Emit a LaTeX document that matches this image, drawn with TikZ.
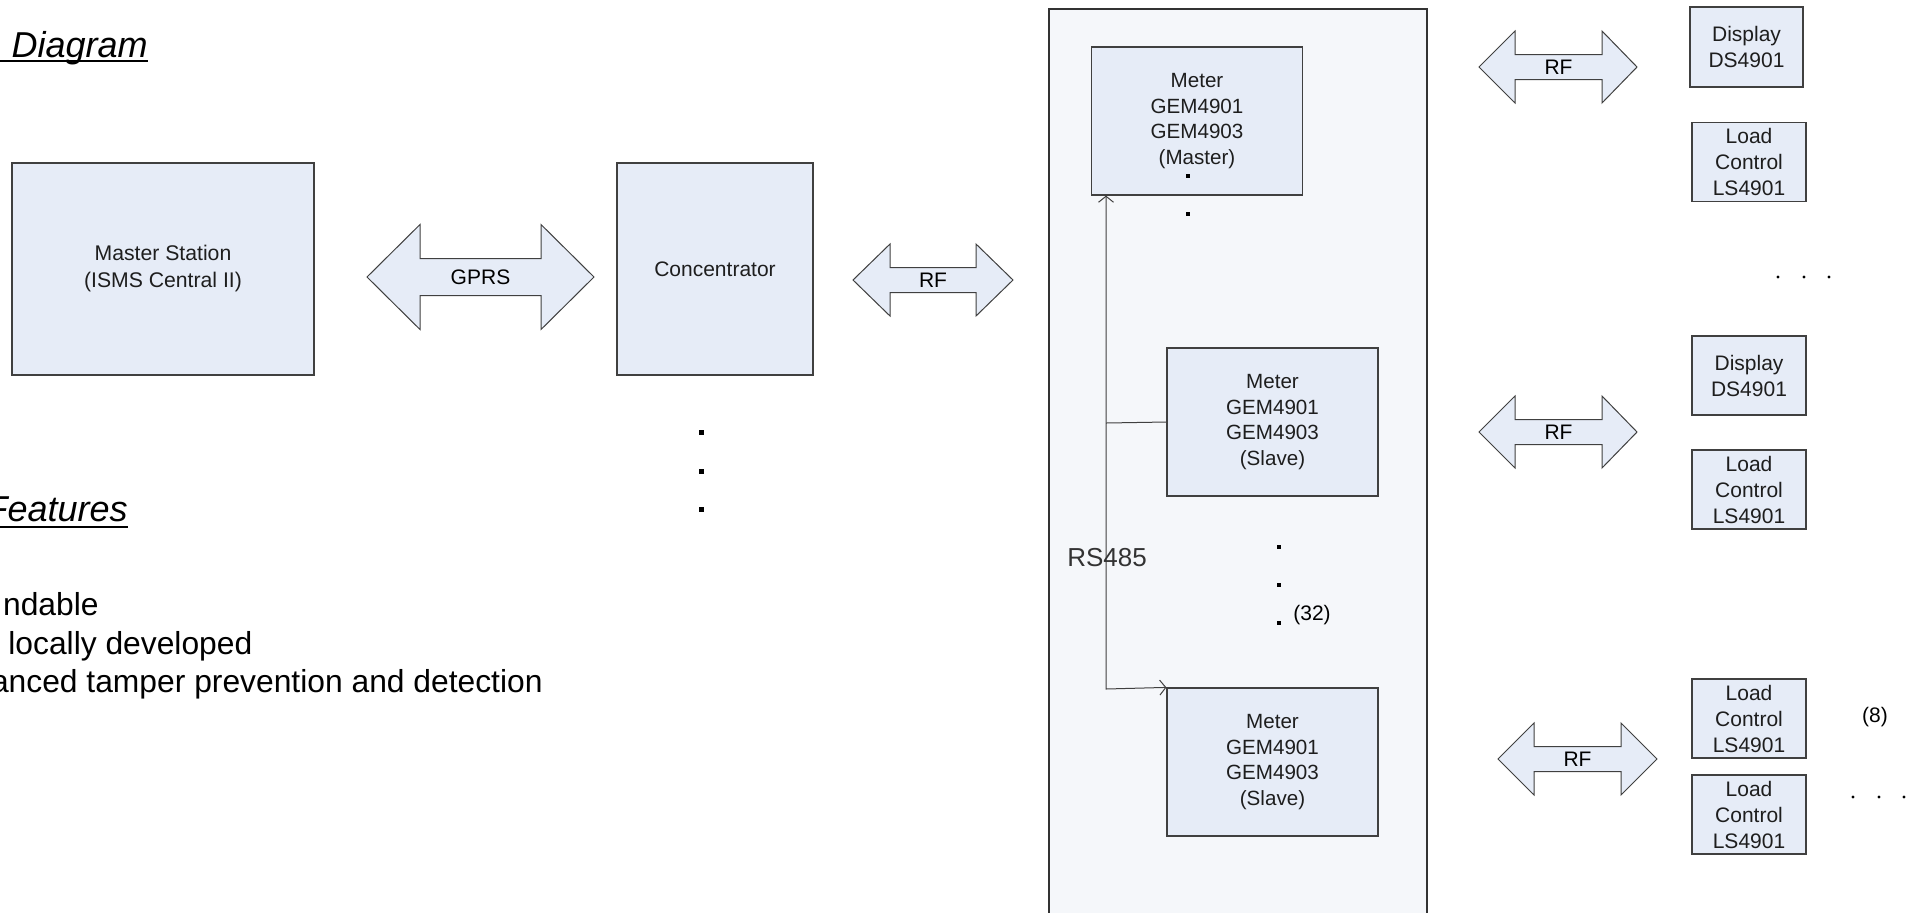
\documentclass[tikz,border=0pt]{standalone}
\usepackage{fontspec}
\setmainfont{Liberation Sans}
\usetikzlibrary{arrows.meta}
\definecolor{boxfill}{RGB}{230,236,247}
\definecolor{contfill}{RGB}{245,247,250}
\definecolor{edgecol}{RGB}{64,64,64}
\definecolor{txtcol}{RGB}{30,30,30}
\newcommand{\blockarr}[9]{%
  \draw[blockar] (#2,#6) -- (#3,#6-#7) -- (#3,#6-#8) -- (#4,#6-#8) -- (#4,#6-#7)
    -- (#5,#6) -- (#4,#6+#7) -- (#4,#6+#8) -- (#3,#6+#8) -- (#3,#6+#7) -- cycle;
  \node[arlbl] (#1) at ({(#3+#4)/2},#6) {#9};}
\newcommand{\sqdot}[3]{\fill (#1-#3,#2-#3) rectangle (#1+#3,#2+#3);}
\begin{document}
\begin{tikzpicture}[x=0.5pt,y=-0.5pt,
  box/.style={draw=edgecol, fill=boxfill, line width=0.6pt, inner sep=0pt, align=center, text=txtcol},
  meterbox/.style={box, minimum width=105.5pt, minimum height=74pt, font=\fontsize{10.3}{12.85}\selectfont},
  devbox/.style={box, minimum width=57pt, minimum height=39.5pt, font=\fontsize{10.5}{13}\selectfont},
  blockar/.style={draw=edgecol, fill=boxfill, line width=0.5pt, line join=miter},
  arlbl/.style={inner sep=0pt, font=\fontsize{10.5}{12}\selectfont},
  bus/.style={draw=edgecol, line width=0.5pt},
  uline/.style={line width=1pt},
  heading/.style={inner sep=0pt, font=\fontsize{18}{21}\selectfont\itshape},
  bodytxt/.style={inner sep=0pt, font=\fontsize{15.9}{18}\selectfont},
  note/.style={inner sep=0pt, font=\fontsize{10.5}{12}\selectfont}
]
\useasboundingbox (0,0) rectangle (1912,912);
\fill[white] (0,0) rectangle (1912,912);

% titles and feature text
\node[heading, anchor=base east] (dg) at (148,57) {Diagram};
\draw[uline] (0,60.5) -- (148,60.5);
\node[heading, anchor=base east] (ft) at (128,521) {Features};
\draw[uline] (0,526.5) -- (128,526.5);
\node[bodytxt, anchor=base east] (l1) at (99,615) {ndable};
\node[bodytxt, anchor=base west] (l2) at (8,654) {locally developed};
\node[bodytxt, anchor=base east] (l3) at (543,692) {anced tamper prevention and detection};

% left blocks
\node[box, minimum width=151pt, minimum height=106pt, font=\fontsize{10.6}{13.5}\selectfont] (ms) at (163,269) {Master Station\\(ISMS Central II)};
\node[box, minimum width=98pt, minimum height=106pt, font=\fontsize{10.5}{13}\selectfont] (conc) at (715,269) {Concentrator};
\blockarr{gprs}{367}{420}{541}{594}{277}{52.5}{18.5}{GPRS}
\blockarr{rf1}{853}{890}{976}{1013}{280}{36}{12.5}{RF}
\sqdot{701}{432}{2.5}
\sqdot{701}{471}{2.5}
\sqdot{701}{509}{2.5}

% meter container
\node[draw=black!80, fill=contfill, line width=0.7pt, minimum width=189pt, minimum height=465.5pt, inner sep=0pt] (cont) at (1238,474.5) {};
\node[meterbox] (mm) at (1197,121) {Meter\\GEM4901\\GEM4903\\(Master)};
\node[meterbox] (s1) at (1272.5,422) {Meter\\GEM4901\\GEM4903\\(Slave)};
\node[meterbox] (s2) at (1272.5,762) {Meter\\GEM4901\\GEM4903\\(Slave)};
\sqdot{1188}{176}{1.6}
\sqdot{1188}{214}{1.6}
\sqdot{1279}{547}{2}
\sqdot{1279}{585}{2}
\sqdot{1279}{623}{2}
\node[note] (n32) at (1312,615) {(32)};

\coordinate (busbot) at (1106,689);
\coordinate (busmid) at (1106,423);
\draw[bus, {Straight Barb[length=3pt,width=7.5pt]}-{Straight Barb[length=3pt,width=7.5pt]}] (mm.south -| busbot) -- (busbot) -- (s2.north west);
\draw[bus] (busmid) -- (s1.west);
\node[inner sep=0pt, text=black!80, font=\fontsize{13}{15}\selectfont] (rs) at (1107,558) {RS485};

% right side
\blockarr{rf2}{1479}{1515}{1602}{1637}{67}{36}{12.5}{RF}
\blockarr{rf3}{1479}{1515}{1602}{1637}{432}{36}{12.5}{RF}
\blockarr{rf4}{1498}{1534}{1621}{1657}{759}{36}{12.5}{RF}

\node[devbox, minimum width=56.5pt, minimum height=40pt] (d1) at (1746.5,47) {Display\\DS4901};
\node[devbox] (lc1) at (1749,162) {Load\\Control\\LS4901};
\node[devbox] (d2) at (1749,375.5) {Display\\DS4901};
\node[devbox] (lc2) at (1749,489.5) {Load\\Control\\LS4901};
\node[devbox] (lc3) at (1749,718.5) {Load\\Control\\LS4901};
\node[devbox] (lc4) at (1749,814.5) {Load\\Control\\LS4901};

\node[note] (n8) at (1875,717) {(8)};
\foreach \xx in {1778,1804,1829} \fill (\xx,277) circle (1.7);
\foreach \xx in {1853,1879,1904} \fill (\xx,797) circle (1.7);
\end{tikzpicture}
\end{document}
